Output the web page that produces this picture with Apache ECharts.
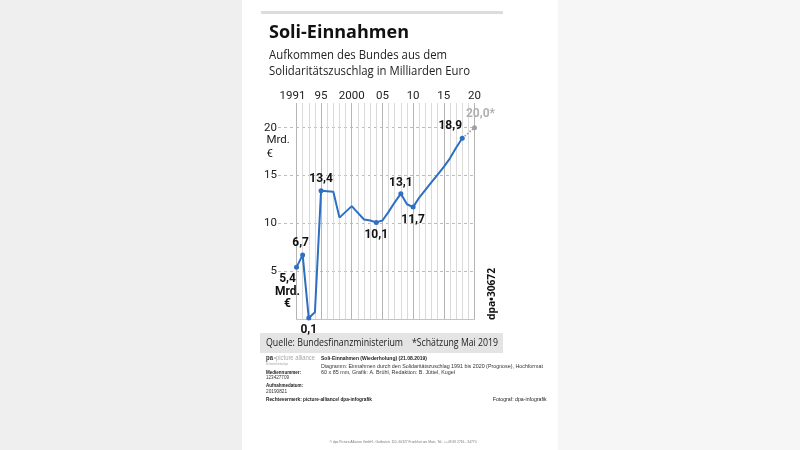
<!DOCTYPE html>
<html>
<head>
<meta charset="utf-8">
<script src="https://cdn.jsdelivr.net/npm/echarts@6/dist/echarts.min.js"></script>
<style>
html,body{margin:0;padding:0;}
body{width:800px;height:450px;background:linear-gradient(to right,#efefef 0,#efefef 242px,#ffffff 242px,#ffffff 558px,#f6f6f6 558px,#f6f6f6 800px);}
#c{width:800px;height:450px;}
</style>
</head>
<body>
<div id="c"></div>
<script>
// ---------- data ----------
const years = [1991,1992,1993,1994,1995,1996,1997,1998,1999,2000,
               2001,2002,2003,2004,2005,2006,2007,2008,2009,2010,
               2011,2012,2013,2014,2015,2016,2017,2018,2019,2020];
const revenue = [5.4,6.7,0.1,0.7,13.4,13.35,13.3,10.6,11.2,11.8,
                 11.1,10.4,10.3,10.1,10.3,11.2,12.2,13.1,12.0,11.7,
                 12.7,13.5,14.3,15.1,15.9,16.8,17.9,18.9,null,null];
const forecast = [null,null,null,null,null,null,null,null,null,null,
                  null,null,null,null,null,null,null,null,null,null,
                  null,null,null,null,null,null,null,18.9,null,20.0];
const labelYears = [1991,1992,1993,1995,2004,2008,2010,2018];
const tickYears = [1991,1995,2000,2005,2010,2015,2020];
const tickTexts = ['1991','95','2000','05','10','15','20'];
const yTicks = [5,10,15,20];

// ---------- styling ----------
const BLUE = '#2d6fc1';
const GREY = '#a0a0a0';
const NUMFONT = '"Liberation Sans Narrow","Roboto",sans-serif';
const LBLFONT = 'Roboto, "Open Sans", sans-serif';
const fmt = v => v.toFixed(1).replace('.', ',');

// per-label placement (style only)
const labelPlace = {
  1991:{position:'bottom',distance:3,offset:[-9,0],suffix:'\nMrd.\n€'},
  1992:{position:'top',distance:3,offset:[-2,0]},
  1993:{position:'bottom',distance:3,offset:[0,0]},
  1995:{position:'top',distance:3,offset:[0,0]},
  2004:{position:'bottom',distance:4,offset:[0,0]},
  2008:{position:'top',distance:2,offset:[0,0]},
  2010:{position:'bottom',distance:4,offset:[0,0]},
  2018:{position:'top',distance:3,offset:[-12,0]}
};

const lineData = revenue.map((v,i) => {
  const y = years[i];
  if (labelYears.indexOf(y) >= 0 && v != null) {
    const p = labelPlace[y];
    return {
      value: v,
      symbol: 'circle', symbolSize: 5,
      label: {show:true, position:p.position, distance:p.distance, offset:p.offset,
              formatter: fmt(v) + (p.suffix||''),
              fontFamily: LBLFONT, fontWeight:'bold', fontSize:12, lineHeight:12.5, color:'#111', align:'center'}
    };
  }
  return {value: v, symbolSize: 0, symbol:'none'};
});
const fcData = forecast.map((v,i) => {
  if (v == null) return {value:null};
  if (i === forecast.length-1) {
    return {value:v, symbol:'circle', symbolSize:5,
      label:{show:true, position:'top', distance:5, offset:[6,0], formatter: fmt(v)+'*',
             fontFamily: LBLFONT, fontWeight:'bold', fontSize:12, color:'#b0b0b0'}};
  }
  return {value:v, symbol:'none', symbolSize:0};
});

// text helper with width fitting
const mctx = document.createElement('canvas').getContext('2d');
function txt(str, x, y, font, width, opt) {
  opt = opt || {};
  mctx.font = font;
  const w = mctx.measureText(str).width;
  const sx = width ? width / w : 1;
  return {type:'text', x:x, y:y, scaleX:sx, rotation: opt.rotation||0, z:100,
    style:{text:str, font:font, fill:opt.fill||'#222', textAlign:opt.align||'left', textVerticalAlign:'middle'}};
}

const OS = '"Open Sans", sans-serif';
const AR = '"Liberation Sans", Arial, sans-serif';
const graphics = [
  {type:'rect', shape:{x:261,y:11,width:242,height:3}, style:{fill:'#dcdcdc'}, z:1},
  txt('Soli-Einnahmen', 269, 33, 'bold 18px '+OS, 140, {fill:'#111'}),
  txt('Aufkommen des Bundes aus dem', 269, 56, '12px '+OS, 178, {fill:'#222'}),
  txt('Solidaritätszuschlag in Milliarden Euro', 269, 72, '12px '+OS, 201, {fill:'#222'}),
  txt('Mrd.', 266.5, 140, '11.5px '+NUMFONT, 0, {fill:'#222'}),
  txt('€', 266.5, 154, '11.5px '+NUMFONT, 0, {fill:'#222'}),
  {type:'rect', shape:{x:260,y:333,width:243,height:20}, style:{fill:'#e4e4e4'}, z:1},
  txt('Quelle: Bundesfinanzministerium', 266, 343.5, '10px '+OS, 137, {fill:'#222'}),
  txt('*Schätzung Mai 2019', 498, 343.5, '10px '+OS, 86, {fill:'#222', align:'right'}),
  txt('dpa•30672', 492, 294, 'bold 11px '+OS, 52, {fill:'#111', align:'center', rotation:Math.PI/2}),
  // meta block
  txt('pa', 266, 358, 'bold 7px '+AR, 7, {fill:'#333'}),
  txt('•picture alliance', 274, 358, '7px '+AR, 41, {fill:'#a8a8a8'}),
  txt('Ein Unternehmen der dpa-Gruppe', 266, 364, '3px '+AR, 22, {fill:'#999'}),
  txt('Soli-Einnahmen (Wiederholung) (21.08.2019)', 321, 358, 'bold 6px '+AR, 106, {fill:'#222'}),
  txt('Diagramm: Einnahmen durch den Solidaritätszuschlag 1991 bis 2020 (Prognose), Hochformat', 321, 366.5, '6px '+AR, 222, {fill:'#333'}),
  txt('60 x 85 mm, Grafik: A. Brühl, Redaktion: B. Jüttel, Kugel', 321, 372, '6px '+AR, 134, {fill:'#333'}),
  txt('Mediennummer:', 266, 372.3, 'bold 6px '+AR, 35, {fill:'#222'}),
  txt('123427709', 266, 377.6, '6px '+AR, 23, {fill:'#333'}),
  txt('Aufnahmedatum:', 266, 385.7, 'bold 6px '+AR, 37, {fill:'#222'}),
  txt('20190821', 266, 391, '6px '+AR, 21, {fill:'#333'}),
  txt('Rechtevermerk: picture-alliance/ dpa-infografik', 266, 399.3, 'bold 6px '+AR, 106, {fill:'#222'}),
  txt('Fotograf: dpa-infografik', 546.7, 399.3, '6px '+AR, 54, {fill:'#222', align:'right'}),
  txt('© dpa Picture-Alliance GmbH - Gutleutstr. 110, 60327 Frankfurt am Main, Tel.: ++49 69 2716 - 34770', 403, 442, '4px '+AR, 147, {fill:'#777', align:'center'})
];

const Y0 = 319, Y20 = 127.7, YTOP = 103;
const yMax0 = 20 * (Y0 - YTOP) / (Y0 - Y20);

const option = {
  backgroundColor: 'transparent',
  animation: false,
  graphic: graphics,
  grid: [
    {left:296.5, right:325.5, top:YTOP, bottom:450-Y0},
    {left:278, right:325, top:Y20, bottom:450-Y0}
  ],
  xAxis: [
    {type:'category', gridIndex:0, data:years, boundaryGap:false,
     axisLine:{show:true, lineStyle:{color:'#c4c4c4', width:1}},
     axisTick:{show:false}, axisLabel:{show:false, interval:0},
     splitLine:{show:true, interval:0, lineStyle:{color:'#dadada', width:1}}},
    {type:'category', gridIndex:0, data:years, boundaryGap:false, position:'top',
     axisLine:{show:false}, axisTick:{show:false},
     axisLabel:{show:true, margin:1, interval:(i,v)=>tickYears.indexOf(+v)>=0,
       formatter:(v)=>{ const k = tickYears.indexOf(+v); if (k<0) return ''; return k===0 ? '{a|'+tickTexts[k]+'}' : '{b|'+tickTexts[k]+'}'; },
       rich:{a:{fontFamily:NUMFONT, fontSize:11.5, color:'#222', padding:[0,8,0,0]}, b:{fontFamily:NUMFONT, fontSize:11.5, color:'#222'}}},
     splitLine:{show:true, interval:(i,v)=>tickYears.indexOf(+v)>=0, lineStyle:{color:'#b4b4b4', width:1}}},
    {type:'value', gridIndex:1, min:0, max:1, show:false}
  ],
  yAxis: [
    {type:'value', gridIndex:0, min:0, max:yMax0, show:false, splitLine:{show:false}},
    {type:'value', gridIndex:1, min:0, max:20, interval:5,
     axisLine:{show:false}, axisTick:{show:false},
     axisLabel:{show:true, margin:1, fontFamily:NUMFONT, fontSize:11.5, color:'#222',
       formatter:(v)=> yTicks.indexOf(v)>=0 ? String(v) : ''},
     splitLine:{show:true, lineStyle:{type:[3,3], width:1, color:['rgba(0,0,0,0)','#bcbcbc','#bcbcbc','#bcbcbc','#bcbcbc']}}}
  ],
  series: [
    {type:'line', xAxisIndex:2, yAxisIndex:1, data:[], silent:true},
    {type:'line', xAxisIndex:1, yAxisIndex:0, data:fcData, connectNulls:true, showAllSymbol:true,
     lineStyle:{color:GREY, width:1.6, type:'dotted'}, itemStyle:{color:GREY}, z:3},
    {type:'line', xAxisIndex:0, yAxisIndex:0, data:lineData, connectNulls:false, showAllSymbol:true,
     lineStyle:{color:BLUE, width:2}, itemStyle:{color:BLUE}, z:4}
  ]
};
echarts.init(document.getElementById('c'), null, {renderer:'canvas'}).setOption(option);
</script>
</body>
</html>
